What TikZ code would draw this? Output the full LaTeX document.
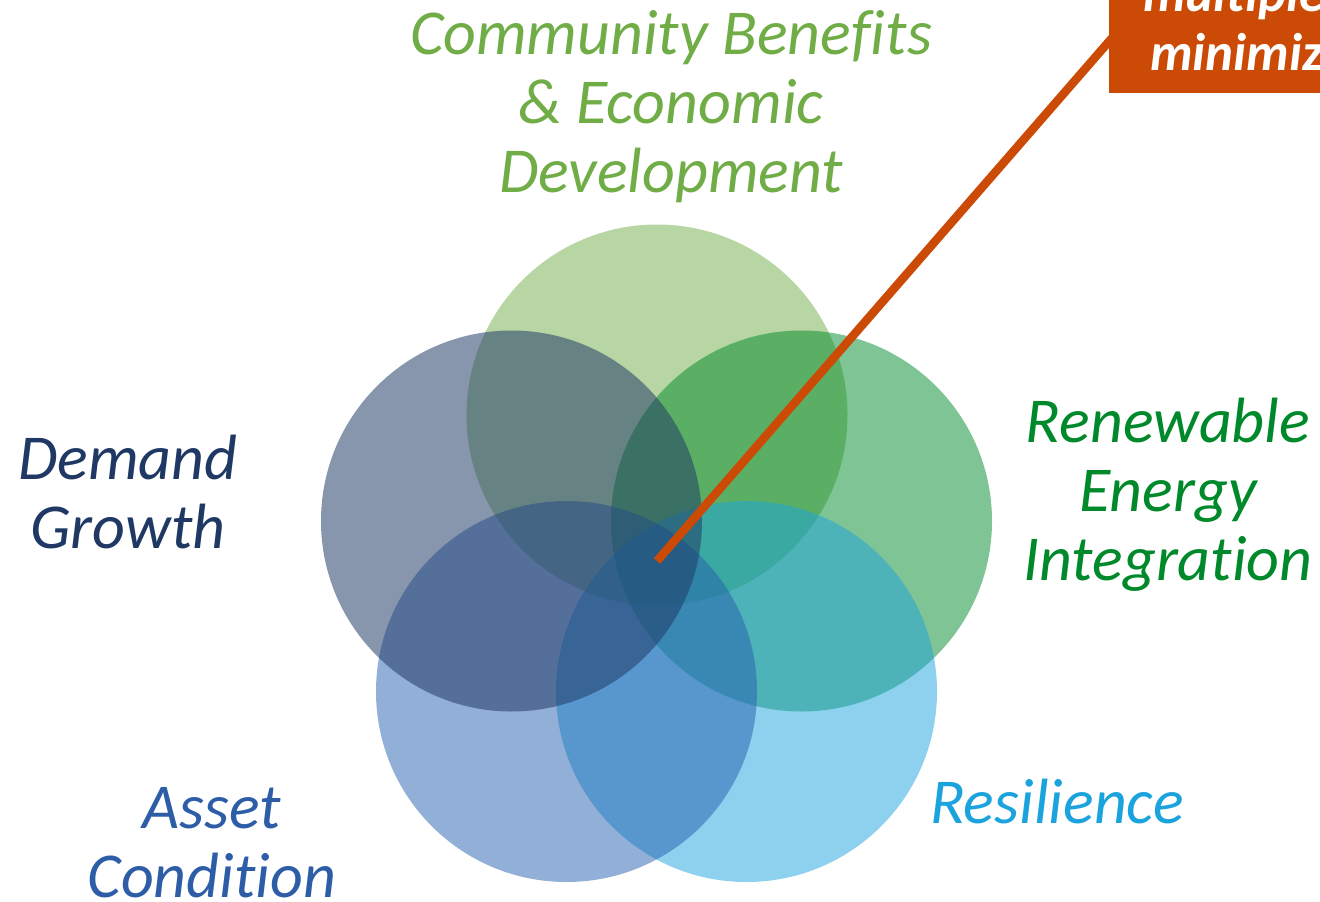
\documentclass[tikz,border=0pt]{standalone}
\usepackage{fontspec}
\setmainfont[Ligatures=NoCommon]{Carlito}
\definecolor{cgreen}{HTML}{70AD47}
\definecolor{cnavy}{HTML}{1F3864}
\definecolor{cdgreen}{HTML}{00892A}
\definecolor{cblue}{HTML}{255FAF}
\definecolor{csky}{HTML}{1BA3DD}
\definecolor{cnavytxt}{HTML}{203864}
\definecolor{cbluetxt}{HTML}{2E5DA8}
\definecolor{corange}{HTML}{CB4A06}
\tikzset{
  disc/.style={circle, minimum size=381pt, inner sep=0pt, fill=#1, fill opacity=0.5, draw=none},
  lbl/.style={align=center, font=\fontsize{64}{69}\selectfont\itshape, text=#1, inner sep=0pt},
  callout/.style={fill=corange, draw=none, inner sep=0pt},
  callouttxt/.style={text=white, font=\fontsize{53}{58}\selectfont\bfseries\itshape, inner sep=0pt, anchor=base west}
}
\begin{document}
\begin{tikzpicture}[x=1pt, y=-1pt]
  \useasboundingbox (0,0) rectangle (1320,902);
  \clip (0,0) rectangle (1320,902);

  % five overlapping translucent discs, back to front
  \node[disc=cgreen] (top)   at (657,415)   {};
  \node[disc=cdgreen](right) at (801.5,521) {};
  \node[disc=csky]   (br)    at (746.5,691.5) {};
  \node[disc=cblue]  (bl)    at (566.5,691.5) {};
  \node[disc=cnavy, fill opacity=0.53]  (left)  at (511.5,521) {};

  % category labels
  \node[lbl=cgreen]   (community) at (671,107) {Community Benefits\\\& Economic\\Development};
  \node[lbl=cnavytxt] (demand)    at (128,492) {Demand\\Growth};
  \node[lbl=cdgreen]  (renew)     at (1168,495) {Renewable\\Energy\\Integration};
  \node[lbl=csky]     (resil)     at (1057,802) {Resilience};
  \node[lbl=cbluetxt] (asset)     at (212,843) {Asset\\Condition};

  % callout leader from the common overlap to the box
  \coordinate (core) at (657,561);
  \coordinate (tip)  at (1112,38);
  \draw[corange, line width=8.5pt] (core) -- (tip);

  % callout box, running off the top right corner
  \node[callout, anchor=north west, minimum width=300pt, minimum height=160pt] (box) at (1109,-67) {};
  \node[callouttxt] (line1) at (1143,12) {multiple};
  \node[callouttxt] (line2) at (1150,70) {minimize};
\end{tikzpicture}
\end{document}
